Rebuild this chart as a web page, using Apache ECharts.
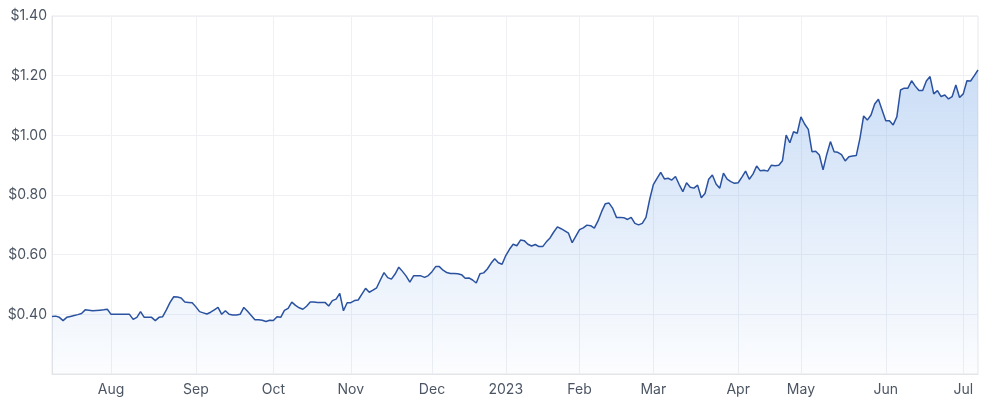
<!DOCTYPE html>
<html>
<head>
<meta charset="utf-8">
<script src="https://cdn.jsdelivr.net/npm/echarts@6/dist/echarts.min.js"></script>
<style>
html,body{margin:0;padding:0;background:#fff;}
#chart{width:1000px;height:405px;}
</style>
</head>
<body>
<div id="chart"></div>
<script>
// Trading-day calendar (ASX), Jul 8 2022 – Jul 7 2023
var startDate = '2022-07-08';
var endDate = '2023-07-07';
var holidays = ['2022-09-22','2022-12-26','2022-12-27','2023-01-02','2023-01-26','2023-04-07','2023-04-10','2023-04-25','2023-06-12'];
var monthNames = ['Jan','Feb','Mar','Apr','May','Jun','Jul','Aug','Sep','Oct','Nov','Dec'];

// Closing prices (one per trading day)
var prices = [
0.393,0.394,0.390,0.379,0.390,0.393,0.396,0.399,0.403,0.415,0.414,0.412,0.413,0.414,0.415,0.417,
0.400,0.400,0.400,0.400,0.400,0.400,0.383,0.390,0.409,0.390,0.390,0.390,0.379,0.390,0.392,0.415,0.440,0.459,0.458,0.455,0.441,0.440,0.439,
0.425,0.409,0.405,0.401,0.407,0.415,0.423,0.400,0.412,0.400,0.398,0.398,0.400,0.423,0.410,0.396,0.382,0.382,0.380,0.376,0.380,
0.379,0.392,0.390,0.413,0.420,0.441,0.430,0.422,0.417,0.427,0.441,0.441,0.440,0.440,0.440,0.428,0.446,0.451,0.470,0.412,0.439,
0.439,0.446,0.448,0.468,0.487,0.474,0.481,0.489,0.515,0.540,0.523,0.518,0.535,0.558,0.544,0.528,0.508,0.529,0.529,0.529,0.524,0.530,
0.543,0.560,0.560,0.548,0.540,0.537,0.537,0.536,0.533,0.521,0.522,0.515,0.505,0.536,0.539,0.552,0.571,0.586,0.573,0.568,
0.597,0.618,0.635,0.630,0.649,0.647,0.635,0.629,0.634,0.627,0.627,0.643,0.656,0.676,0.693,0.687,0.680,0.672,0.640,0.662,
0.684,0.690,0.699,0.697,0.689,0.713,0.745,0.771,0.773,0.755,0.725,0.725,0.724,0.718,0.725,0.705,0.700,0.705,0.725,0.785,
0.835,0.856,0.876,0.854,0.856,0.850,0.862,0.835,0.811,0.841,0.826,0.823,0.833,0.791,0.805,0.853,0.867,0.837,0.823,0.873,0.853,0.845,0.839,
0.841,0.860,0.880,0.853,0.870,0.897,0.881,0.883,0.880,0.900,0.898,0.900,0.915,1.001,0.975,1.012,1.007,
1.062,1.038,1.020,0.945,0.947,0.934,0.884,0.936,0.979,0.945,0.943,0.935,0.914,0.928,0.931,0.932,0.990,1.065,1.051,1.068,1.105,1.121,1.085,
1.049,1.049,1.035,1.062,1.152,1.158,1.158,1.183,1.165,1.150,1.150,1.182,1.197,1.139,1.150,1.130,1.135,1.122,1.130,1.169,1.127,
1.139,1.183,1.182,1.200,1.219
];

var yTicks = [0.2, 0.4, 0.6, 0.8, 1.0, 1.2, 1.4];

function pad(n){return n<10?'0'+n:''+n;}
var dates = [];
(function(){
  var d = new Date(startDate+'T00:00:00Z');
  var e = new Date(endDate+'T00:00:00Z');
  while (d <= e) {
    var wd = d.getUTCDay();
    var s = d.getUTCFullYear()+'-'+pad(d.getUTCMonth()+1)+'-'+pad(d.getUTCDate());
    if (wd !== 0 && wd !== 6 && holidays.indexOf(s) < 0) dates.push(s);
    d = new Date(d.getTime()+86400000);
  }
})();

function isMonthStart(i){
  if (i === 0) return false;
  return dates[i].slice(0,7) !== dates[i-1].slice(0,7);
}
function monthLabel(s){
  var m = parseInt(s.slice(5,7),10);
  return m === 1 ? s.slice(0,4) : monthNames[m-1];
}

var chart = echarts.init(document.getElementById('chart'), null, {renderer:'canvas'});
chart.setOption({
  animation:false,
  grid:{left:52,right:22,top:16,bottom:31,show:true,borderColor:'#e6e8eb',borderWidth:1,backgroundColor:'transparent'},
  xAxis:{
    type:'category',
    data:dates,
    boundaryGap:false,
    axisLine:{show:true,lineStyle:{color:'#e3e5e8'}},
    axisTick:{show:false},
    axisLabel:{
      interval:function(i){return isMonthStart(i);},
      formatter:function(v){return monthLabel(v);},
      color:'#4b5563',fontSize:14,fontFamily:'Inter, Roboto, sans-serif',margin:9
    },
    splitLine:{show:true,interval:function(i){return isMonthStart(i);},lineStyle:{color:'#eef0f3'}}
  },
  yAxis:{
    type:'value',
    min:yTicks[0],max:yTicks[yTicks.length-1],interval:0.2,
    axisLine:{show:true,lineStyle:{color:'#e3e5e8'}},
    axisTick:{show:false},
    axisLabel:{
      formatter:function(v){return v < 0.3 ? '' : '$'+v.toFixed(2);},
      color:'#4b5563',fontSize:14,fontFamily:'Inter, Roboto, sans-serif',margin:5
    },
    splitLine:{show:true,lineStyle:{color:'#eef0f3'}}
  },
  series:[{
    type:'line',
    data:prices,
    symbol:'none',
    lineStyle:{color:'#2a52a0',width:1.5},
    areaStyle:{
      color:new echarts.graphic.LinearGradient(0,0,0,1,[
        {offset:0,color:'rgba(120,168,232,0.55)'},
        {offset:1,color:'rgba(120,168,232,0.04)'}
      ])
    }
  }]
});
</script>
</body>
</html>
